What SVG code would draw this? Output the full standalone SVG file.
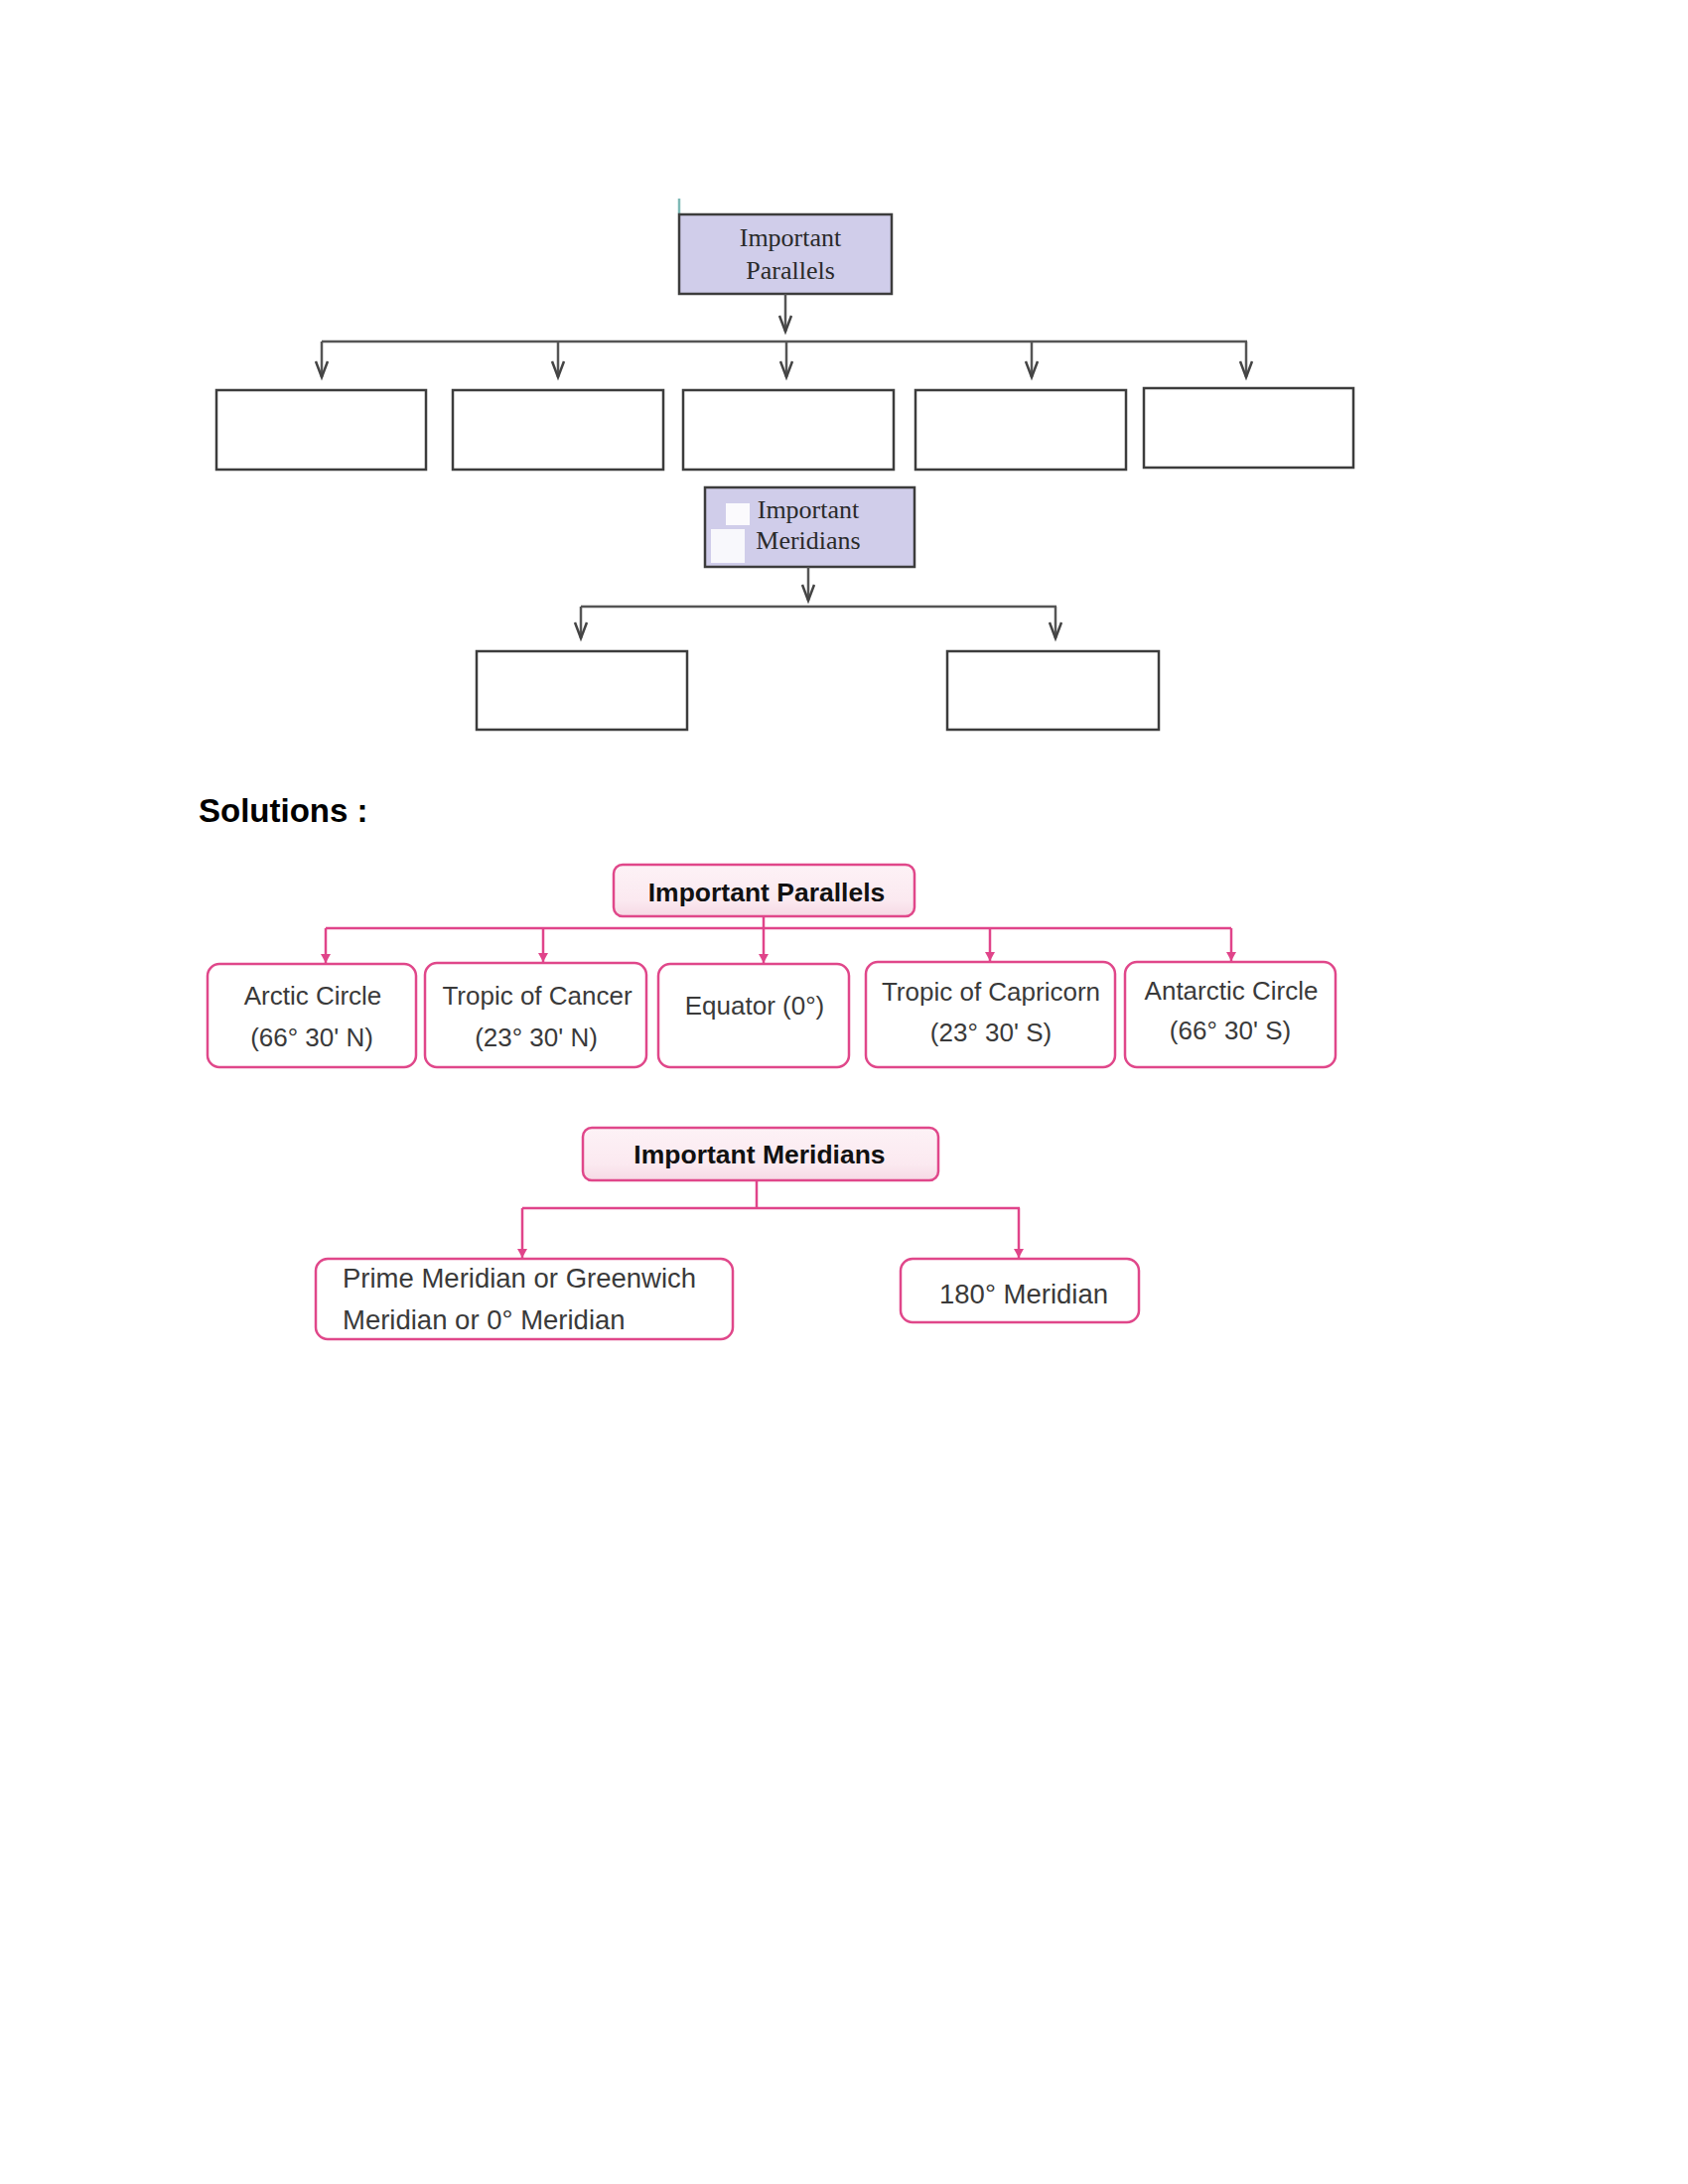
<svg xmlns="http://www.w3.org/2000/svg" width="1700" height="2200" viewBox="0 0 1700 2200">
<defs>
<marker id="vArrow" markerUnits="userSpaceOnUse" markerWidth="20" markerHeight="24" refX="10" refY="20" viewBox="0 0 20 24">
<path d="M4,4 L10,20 L16,4" fill="none" stroke="#444" stroke-width="2.5"/>
</marker>
<marker id="pArrow" markerUnits="userSpaceOnUse" markerWidth="12" markerHeight="12" refX="6" refY="10" viewBox="0 0 12 12">
<path d="M1,1 L6,10 L11,1 Z" fill="#e0448a"/>
</marker>
<linearGradient id="pinkFill" x1="0" y1="0" x2="0" y2="1">
<stop offset="0" stop-color="#fdf2f6"/>
<stop offset="0.7" stop-color="#fbe9f0"/>
<stop offset="1" stop-color="#f6d9e5"/>
</linearGradient>
</defs>
<style>
.gbox{fill:#ffffff;stroke:#3c3c3c;stroke-width:2.5}
.lbox{fill:#d0cdea;stroke:#3c3c3c;stroke-width:2.5}
.gline{fill:none;stroke:#555;stroke-width:2.5}
.serif{font-family:"Liberation Serif","DejaVu Serif",serif;font-size:26px;fill:#2a2a2a;text-anchor:middle}
.pbox{fill:#ffffff;stroke:#e0478a;stroke-width:2.5}
.ptitle{fill:url(#pinkFill);stroke:#e0478a;stroke-width:2.5}
.pline{fill:none;stroke:#e0448a;stroke-width:2.5}
.t{font-family:"Liberation Sans","Arial",sans-serif;font-size:26px;fill:#3a3a3a;text-anchor:middle}
.tm{font-family:"Liberation Sans","Arial",sans-serif;font-size:27.5px;fill:#3a3a3a}
.tb{font-family:"Liberation Sans","Arial",sans-serif;font-size:26.5px;font-weight:bold;fill:#111;text-anchor:middle}
.sol{font-family:"Liberation Sans","Arial",sans-serif;font-size:33px;font-weight:bold;fill:#000}
</style>
<rect width="1700" height="2200" fill="#ffffff"/>

<!-- Top worksheet diagram -->
<line x1="684" y1="200" x2="684" y2="215" stroke="#7fb9b6" stroke-width="2.5"/>
<g id="q-parallels">
<rect class="lbox" x="684" y="216" width="214" height="80"/>
<text class="serif" x="796" y="248">Important</text>
<text class="serif" x="796" y="281">Parallels</text>
</g>
<g id="q-p1"><rect class="gbox" x="218" y="393" width="211" height="80"/></g>
<g id="q-p2"><rect class="gbox" x="456" y="393" width="212" height="80"/></g>
<g id="q-p3"><rect class="gbox" x="688" y="393" width="212" height="80"/></g>
<g id="q-p4"><rect class="gbox" x="922" y="393" width="212" height="80"/></g>
<g id="q-p5"><rect class="gbox" x="1152" y="391" width="211" height="80"/></g>

<g id="q-meridians">
<rect class="lbox" x="710" y="491" width="211" height="80"/>
<rect x="731" y="507" width="24" height="22" fill="#ffffff" opacity="0.9"/>
<rect x="716" y="533" width="34" height="34" fill="#ffffff" opacity="0.85"/>
<text class="serif" x="814" y="522">Important</text>
<text class="serif" x="814" y="553">Meridians</text>
</g>
<g id="q-m1"><rect class="gbox" x="480" y="656" width="212" height="79"/></g>
<g id="q-m2"><rect class="gbox" x="954" y="656" width="213" height="79"/></g>

<g id="q-connectors">
<line class="gline" x1="791" y1="296" x2="791" y2="334" marker-end="url(#vArrow)"/>
<line class="gline" x1="324" y1="344" x2="1256" y2="344"/>
<line class="gline" x1="324" y1="344" x2="324" y2="380" marker-end="url(#vArrow)"/>
<line class="gline" x1="562" y1="344" x2="562" y2="380" marker-end="url(#vArrow)"/>
<line class="gline" x1="792" y1="344" x2="792" y2="380" marker-end="url(#vArrow)"/>
<line class="gline" x1="1039" y1="344" x2="1039" y2="380" marker-end="url(#vArrow)"/>
<line class="gline" x1="1255" y1="344" x2="1255" y2="380" marker-end="url(#vArrow)"/>
<line class="gline" x1="814" y1="571" x2="814" y2="605" marker-end="url(#vArrow)"/>
<line class="gline" x1="585" y1="611" x2="1064" y2="611"/>
<line class="gline" x1="585" y1="611" x2="585" y2="643" marker-end="url(#vArrow)"/>
<line class="gline" x1="1063" y1="611" x2="1063" y2="643" marker-end="url(#vArrow)"/>
</g>

<text class="sol" x="200" y="828">Solutions :</text>

<!-- Solution: Important Parallels -->
<g id="s-parallels">
<rect class="ptitle" x="618" y="871" width="303" height="52" rx="9"/>
<text class="tb" x="772" y="908">Important Parallels</text>
</g>
<g id="s-arctic">
<rect class="pbox" x="209" y="971" width="210" height="104" rx="12"/>
<text class="t" x="315" y="1012">Arctic Circle</text>
<text class="t" x="314" y="1054">(66° 30' N)</text>
</g>
<g id="s-cancer">
<rect class="pbox" x="428" y="970" width="223" height="105" rx="12"/>
<text class="t" x="541" y="1012">Tropic of Cancer</text>
<text class="t" x="540" y="1054">(23° 30' N)</text>
</g>
<g id="s-equator">
<rect class="pbox" x="663" y="971" width="192" height="104" rx="12"/>
<text class="t" x="760" y="1022">Equator (0°)</text>
</g>
<g id="s-capricorn">
<rect class="pbox" x="872" y="969" width="251" height="106" rx="12"/>
<text class="t" x="998" y="1008">Tropic of Capricorn</text>
<text class="t" x="998" y="1049">(23° 30' S)</text>
</g>
<g id="s-antarctic">
<rect class="pbox" x="1133" y="969" width="212" height="106" rx="12"/>
<text class="t" x="1240" y="1007">Antarctic Circle</text>
<text class="t" x="1239" y="1047">(66° 30' S)</text>
</g>

<!-- Solution: Important Meridians -->
<g id="s-meridians">
<rect class="ptitle" x="587" y="1136" width="358" height="53" rx="9"/>
<text class="tb" x="765" y="1172">Important Meridians</text>
</g>
<g id="s-prime">
<rect class="pbox" x="318" y="1268" width="420" height="81" rx="12"/>
<text class="tm" x="345" y="1297">Prime Meridian or Greenwich</text>
<text class="tm" x="345" y="1339">Meridian or 0° Meridian</text>
</g>
<g id="s-180">
<rect class="pbox" x="907" y="1268" width="240" height="64" rx="12"/>
<text class="tm" x="1031" y="1313" text-anchor="middle">180° Meridian</text>
</g>

<g id="s-connectors">
<line class="pline" x1="769" y1="923" x2="769" y2="970" marker-end="url(#pArrow)"/>
<line class="pline" x1="328" y1="935" x2="1240" y2="935"/>
<line class="pline" x1="328" y1="935" x2="328" y2="970" marker-end="url(#pArrow)"/>
<line class="pline" x1="547" y1="935" x2="547" y2="969" marker-end="url(#pArrow)"/>
<line class="pline" x1="997" y1="935" x2="997" y2="968" marker-end="url(#pArrow)"/>
<line class="pline" x1="1240" y1="935" x2="1240" y2="968" marker-end="url(#pArrow)"/>
<line class="pline" x1="762" y1="1189" x2="762" y2="1217"/>
<line class="pline" x1="526" y1="1217" x2="1027" y2="1217"/>
<line class="pline" x1="526" y1="1217" x2="526" y2="1267" marker-end="url(#pArrow)"/>
<line class="pline" x1="1026" y1="1217" x2="1026" y2="1267" marker-end="url(#pArrow)"/>
</g>
</svg>
